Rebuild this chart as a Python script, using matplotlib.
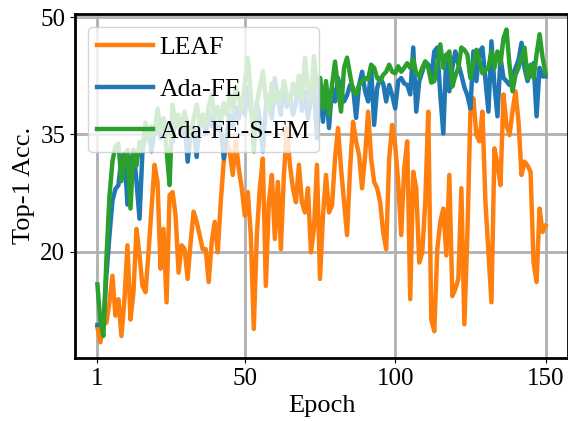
import matplotlib
matplotlib.use("Agg")
import matplotlib.pyplot as plt

epochs = list(range(1, 151))

leaf = [10.3, 8.4, 10.7, 10.9, 13.5, 16.9, 11.8, 13.9, 9.2, 13.9,
        20.8, 11.3, 14.8, 22.9, 19.5, 15.6, 14.8, 19.9, 25.5, 31.1,
        28.9, 17.8, 22.9, 13.5, 27.2, 27.6, 24.6, 17.3, 20.8, 20.3,
        16.5, 21.2, 25.1, 23.8, 22.1, 20.3, 20.3, 16.1, 21.2, 23.8,
        19.9, 26.3, 31.5, 34.1, 32.8, 29.8, 34.1, 30.6, 28.1, 24.6,
        27.6, 22.1, 10.1, 22.1, 28.1, 31.9, 15.6, 26.3, 29.8, 21.6,
        28.9, 20.3, 29.8, 35.8, 31.1, 28.1, 26.3, 31.1, 26.3, 25.0,
        28.1, 19.9, 22.9, 31.1, 16.5, 24.6, 29.8, 25.0, 25.9, 31.9,
        35.8, 30.6, 26.3, 22.1, 30.6, 36.6, 34.1, 32.3, 28.1, 32.3,
        37.9, 31.9, 28.9, 28.1, 26.3, 22.5, 20.3, 31.9, 36.2, 33.6,
        28.9, 22.1, 30.6, 34.1, 13.9, 30.2, 28.1, 18.6, 19.9, 26.3,
        37.9, 11.3, 9.8, 20.3, 23.8, 25.5, 19.5, 29.8, 14.3, 15.2,
        16.5, 28.1, 10.7, 22.1, 37.9, 39.6, 34.9, 34.1, 37.9, 26.3,
        19.9, 13.5, 33.2, 31.1, 28.5, 40.1, 36.2, 34.9, 37.9, 40.5,
        36.6, 29.8, 31.5, 31.0, 30.2, 18.6, 16.1, 25.5, 22.5, 23.3]

ada_fe = [10.6, 10.6, 10.6, 17.0, 22.0, 26.5, 28.0, 28.5, 32.0, 32.5,
          26.0, 31.0, 33.0, 29.0, 24.2, 33.0, 34.5, 35.5, 32.8, 35.5,
          36.5, 34.5, 37.0, 35.0, 36.0, 34.0, 37.5, 36.0, 35.0, 36.5,
          31.5, 35.0, 36.0, 32.1, 36.5, 37.5, 35.0, 38.0, 36.0, 37.0,
          35.5, 36.0, 31.9, 35.0, 37.5, 36.0, 38.5, 37.0, 39.5, 37.5,
          41.0, 38.0, 36.5, 39.0, 37.0, 32.8, 38.5, 40.0, 37.0, 42.2,
          39.5, 37.5, 41.8, 38.5, 40.0, 37.5, 39.0, 41.8, 38.0, 40.5,
          37.0, 39.5, 41.0, 34.5, 42.2, 36.6, 41.3, 35.8, 40.9, 39.2,
          42.2, 40.5, 39.2, 40.0, 41.3, 41.0, 37.1, 41.3, 43.0, 40.5,
          39.2, 43.5, 36.2, 40.9, 42.2, 41.5, 39.2, 41.3, 40.0, 38.3,
          41.8, 42.2, 41.5, 41.3, 40.1, 46.1, 37.9, 41.8, 43.0, 44.3,
          43.9, 42.2, 45.6, 46.1, 40.0, 35.1, 45.2, 40.5, 43.5, 45.6,
          44.0, 42.6, 41.0, 40.0, 38.3, 45.6, 41.8, 45.6, 46.1, 42.0,
          37.9, 46.9, 41.3, 37.3, 44.8, 42.2, 41.8, 41.3, 42.5, 43.5,
          44.5, 46.7, 43.5, 41.8, 43.0, 44.1, 37.3, 43.5, 42.4, 42.4]

ada_fe_s_fm = [15.8, 11.0, 9.2, 19.0, 27.0, 31.5, 33.5, 33.8, 29.0, 32.0,
               33.0, 25.5, 33.0, 31.0, 34.0, 33.0, 36.5, 34.5, 36.0, 35.0,
               38.3, 35.5, 37.0, 33.0, 28.5, 38.8, 36.0, 37.5, 35.5, 37.9,
               36.0, 35.0, 37.0, 38.8, 36.5, 37.5, 36.0, 38.5, 40.1, 37.0,
               38.5, 36.5, 39.0, 37.5, 40.0, 38.0, 41.0, 39.5, 38.0, 41.5,
               44.8, 40.0, 32.8, 39.0, 41.0, 43.1, 39.5, 38.0, 41.5, 39.0,
               40.5, 39.2, 41.8, 40.0, 39.0, 41.5, 40.0, 42.5, 39.5, 44.8,
               41.0, 39.5, 45.0, 41.0, 42.2, 38.3, 41.8, 37.5, 41.3, 44.3,
               40.9, 37.9, 43.5, 44.8, 42.6, 40.5, 40.1, 41.3, 41.8, 42.2,
               42.0, 43.9, 43.5, 42.2, 41.8, 42.6, 43.0, 43.9, 43.0, 42.8,
               43.7, 43.0, 43.5, 44.1, 43.5, 44.6, 42.8, 42.4, 43.5, 44.3,
               43.5, 41.6, 41.8, 44.0, 46.5, 43.5, 45.0, 45.6, 41.1, 42.5,
               43.5, 46.1, 45.8, 45.2, 42.2, 44.0, 45.8, 44.3, 42.8, 43.2,
               43.5, 45.6, 43.5, 45.6, 44.0, 47.3, 48.4, 43.9, 40.5, 42.6,
               43.5, 44.8, 46.1, 42.2, 43.9, 42.2, 45.2, 47.8, 44.8, 42.8]

x_ticks = [1, 50, 100, 150]
y_ticks = [20, 35, 50]

plt.rcParams['font.family'] = ['Liberation Serif', 'DejaVu Serif']
plt.rcParams['font.size'] = 19

fig, ax = plt.subplots(figsize=(5.68, 4.21), dpi=100)
fig.subplots_adjust(left=0.132, right=1.0, top=0.967, bottom=0.150)

ax.plot(epochs, leaf, color='tab:orange', lw=3.2, label='LEAF')
ax.plot(epochs, ada_fe, color='tab:blue', lw=3.2, label='Ada-FE')
ax.plot(epochs, ada_fe_s_fm, color='tab:green', lw=3.2, label='Ada-FE-S-FM')

ax.set_xticks(x_ticks)
ax.set_yticks(y_ticks)
ax.tick_params(labelsize=18)
ax.set_xlabel('Epoch', labelpad=4)
ax.set_ylabel('Top-1 Acc.', labelpad=4)
ax.grid(True, color='#b0b0b0', lw=2)
for s in ax.spines.values():
    s.set_linewidth(2)

ax.legend(loc='upper left', fontsize=18.5, handlelength=2.2, handletextpad=0.25,
          labelspacing=0.75, borderpad=0.35)

fig.savefig('out.png', dpi=100)
